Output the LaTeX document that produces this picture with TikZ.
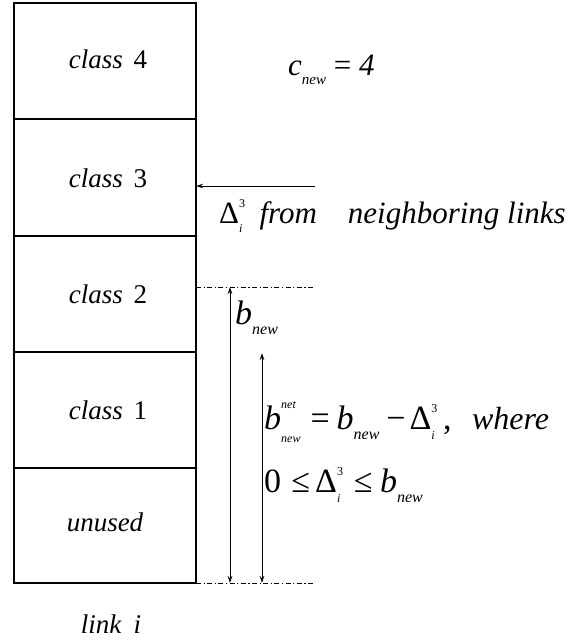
\documentclass[tikz,border=0pt]{standalone}
\usepackage{fontspec}
\setmainfont{Liberation Serif}
\usetikzlibrary{arrows.meta}
\newcommand\smit[2]{{\fontsize{#1}{#1}\selectfont\itshape #2}}
\newcommand\smup[2]{{\fontsize{#1}{#1}\selectfont\upshape #2}}
\newcommand\stkA[4]{\makebox[0pt][l]{\raisebox{#1}{#2}}\raisebox{#3}{#4}}
\newcommand\loA[2]{\raisebox{#1}{#2}}
\begin{document}
\begin{tikzpicture}[x=1pt,y=-1pt,
  thin/.style={line width=1pt},
  rowbox/.style={draw,line width=1.1pt,minimum width=182pt,inner sep=0pt,outer sep=0pt,anchor=north},
  dashdot/.style={line width=0.8pt,dash pattern=on 5pt off 2.5pt on 1.2pt off 2.5pt},
  tip/.style={-{Stealth[length=7pt,width=4.5pt]}},
  bothtip/.style={{Stealth[length=7pt,width=4.5pt]}-{Stealth[length=7pt,width=4.5pt]}},
  clab/.style={anchor=base,inner sep=0pt,font=\fontsize{27}{30}\selectfont},
  mlab/.style={anchor=base west,inner sep=0pt,font=\fontsize{34}{38}\selectfont}]
\useasboundingbox (0,0) rectangle (572,642);
% boxes
\node[rowbox,minimum height=116pt,anchor=north west] (r4) at (14,3) {};
\node[rowbox,minimum height=117pt] (r3) at (r4.south) {};
\node[rowbox,minimum height=116pt] (r2) at (r3.south) {};
\node[rowbox,minimum height=116pt] (r1) at (r2.south) {};
\node[rowbox,minimum height=115pt] (r0) at (r1.south) {};
% labels in boxes
\node[clab] (t4) at (108,68) {\itshape class\hspace{0.4em}\upshape 4};
\node[clab] (t3) at (108,187) {\itshape class\hspace{0.4em}\upshape 3};
\node[clab] (t2) at (108,303) {\itshape class\hspace{0.4em}\upshape 2};
\node[clab] (t1) at (108,419) {\itshape class\hspace{0.4em}\upshape 1};
\node[clab] (t0) at (105,531) {\itshape unused};
\node[clab] (tl) at (111,633) {\itshape link\hspace{0.45em}i};
% c_new
\node[anchor=base west,inner sep=0pt,font=\fontsize{31}{34}\selectfont] (cnew) at (288,75)
  {\itshape c\loA{-0.32em}{\smit{15}{new}}\upshape\hspace{0.25em}=\hspace{0.25em}\itshape 4};
% neighbor arrow
\coordinate (nbstart) at (315,186);
\draw[thin,tip] (nbstart) -- (r3.east |- nbstart);
\node[anchor=base west,inner sep=0pt,font=\fontsize{31}{34}\selectfont] (nb) at (219,223)
  {\upshape Δ\stkA{0.5em}{\smup{12}{3}}{-0.3em}{\smit{12}{i}}\hspace{0.55em}\itshape from\hspace{1em}neighboring links};
% dash-dot lines
\coordinate (d1a) at (196,287);
\coordinate (d1b) at (314,287);
\coordinate (d2b) at (314,583);
\draw[dashdot] (d1a) -- (d1b);
\draw[dashdot] (r0.south east) -- (d2b);
% vertical arrows
\coordinate (v1t) at (230,287);
\coordinate (v1b) at (230,583);
\coordinate (v2t) at (262,353);
\coordinate (v2b) at (262,583);
\draw[thin,bothtip] (v1t) -- (v1b);
\draw[thin,bothtip] (v2t) -- (v2b);
% b_new
\node[mlab] (bnew) at (235,324)
  {\itshape b\loA{-0.3em}{\smit{16}{new}}};
% equations
\node[mlab] (eq1) at (264,429)
  {\itshape b\stkA{0.6em}{\smit{12}{net}}{-0.4em}{\smit{12}{new}}\hspace{0.3em}\upshape =\hspace{0.2em}\itshape b\loA{-0.3em}{\smit{16}{new}}\hspace{0.2em}\upshape −\hspace{0.12em}Δ\stkA{0.5em}{\smup{12}{3}}{-0.3em}{\smit{12}{i}}\hspace{0.25em},\hspace{0.6em}{\fontsize{32}{36}\selectfont\itshape where}};
\node[mlab] (eq2) at (264,492)
  {\upshape 0\hspace{0.3em}≤\hspace{0.15em}Δ\stkA{0.5em}{\smup{12}{3}}{-0.3em}{\smit{12}{i}}\hspace{0.4em}≤\hspace{0.22em}\itshape b\loA{-0.3em}{\smit{16}{new}}};
\end{tikzpicture}
\end{document}
